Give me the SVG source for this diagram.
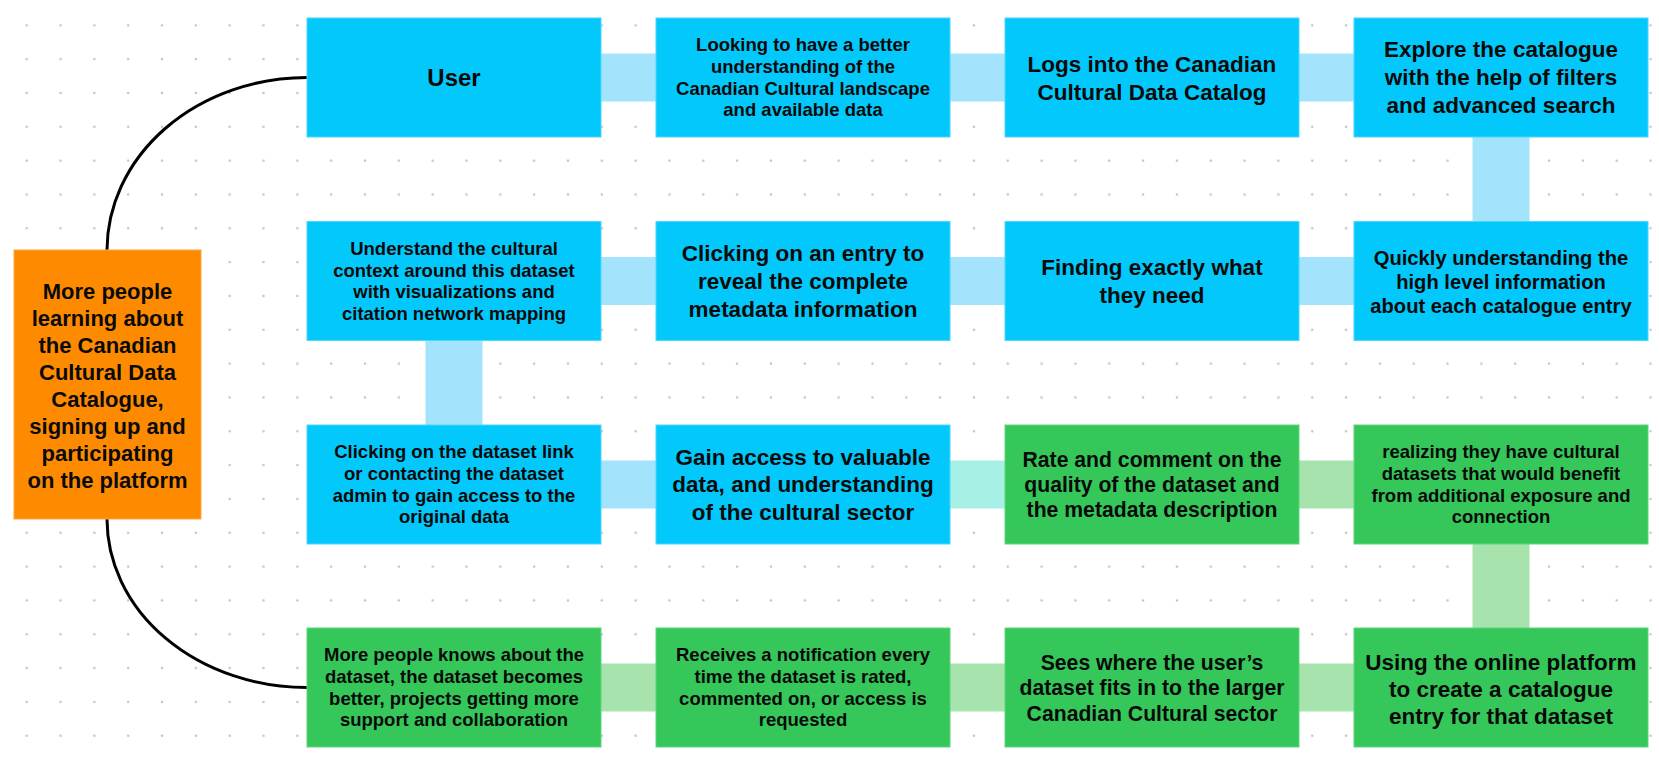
<svg xmlns="http://www.w3.org/2000/svg" width="1659" height="760" viewBox="0 0 1659 760">
<defs>
<pattern id="dots" patternUnits="userSpaceOnUse" x="9.8" y="8.4" width="33.83" height="33.83">
<circle cx="16.9" cy="16.9" r="1.3" fill="#c4c4c4"/>
</pattern>
</defs>
<style>
.b{fill:#03c8fb;stroke:#4dd8fc;stroke-width:1}
.g{fill:#35c759;stroke:#5fd57c;stroke-width:1}
.o{fill:#fe8a00;stroke:#ffa640;stroke-width:1}
.lb{fill:#a3e4fc}
.lg{fill:#a6e3ad}
.lm{fill:#a7f0e5}
text{font-family:"Liberation Sans",Arial,sans-serif;font-weight:bold;fill:#0a0a0a;text-anchor:middle}
.s{font-size:18.5px}
.m{font-size:21.2px}
.l{font-size:22.5px}
.lk{fill:none;stroke:#000;stroke-width:3}
</style>
<rect width="1659" height="760" fill="#fff"/>
<rect width="1659" height="760" fill="url(#dots)"/>
<g id="connectors">
<rect class="lb" x="598" y="53.5" width="61" height="48"/>
<rect class="lb" x="947" y="53.5" width="61" height="48"/>
<rect class="lb" x="1296" y="53.5" width="61" height="48"/>
<rect class="lb" x="1472.5" y="134" width="57" height="91"/>
<rect class="lb" x="598" y="257" width="61" height="48"/>
<rect class="lb" x="947" y="257" width="61" height="48"/>
<rect class="lb" x="1296" y="257" width="61" height="48"/>
<rect class="lb" x="425.5" y="337" width="57" height="91"/>
<rect class="lb" x="598" y="460.5" width="61" height="48"/>
<rect class="lm" x="947" y="460.5" width="61" height="48"/>
<rect class="lg" x="1296" y="460.5" width="61" height="48"/>
<rect class="lg" x="1472.5" y="540" width="57" height="91"/>
<rect class="lg" x="598" y="663.5" width="61" height="48"/>
<rect class="lg" x="947" y="663.5" width="61" height="48"/>
<rect class="lg" x="1296" y="663.5" width="61" height="48"/>
<path class="lk" d="M307,77.5 A200,173 0 0 0 107,250"/>
<path class="lk" d="M107,519 A200,168.5 0 0 0 307,687.5"/>
</g>
<g id="goal">
<rect class="o" x="14" y="250" width="187" height="269"/>
<text class="l" style="font-size:22px"><tspan x="107.5" y="299.2">More people</tspan><tspan x="107.5" y="326.1">learning about</tspan><tspan x="107.5" y="353">the Canadian</tspan><tspan x="107.5" y="379.9">Cultural Data</tspan><tspan x="107.5" y="406.8">Catalogue,</tspan><tspan x="107.5" y="433.7">signing up and</tspan><tspan x="107.5" y="460.6">participating</tspan><tspan x="107.5" y="487.5">on the platform</tspan></text>
</g>
<g id="n1">
<rect class="b" x="307" y="18" width="294" height="119"/>
<text style="font-size:24px" x="454" y="86">User</text>
</g>
<g id="n2">
<rect class="b" x="656" y="18" width="294" height="119"/>
<text class="s"><tspan x="803" y="51.3">Looking to have a better</tspan><tspan x="803" y="73">understanding of the</tspan><tspan x="803" y="94.7">Canadian Cultural landscape</tspan><tspan x="803" y="116.4">and available data</tspan></text>
</g>
<g id="n3">
<rect class="b" x="1005" y="18" width="294" height="119"/>
<text class="l"><tspan x="1152" y="71.7">Logs into the Canadian</tspan><tspan x="1152" y="99.7">Cultural Data Catalog</tspan></text>
</g>
<g id="n4">
<rect class="b" x="1354" y="18" width="294" height="119"/>
<text class="l"><tspan x="1501" y="57.4">Explore the catalogue</tspan><tspan x="1501" y="85.4">with the help of filters</tspan><tspan x="1501" y="113.4">and advanced search</tspan></text>
</g>
<g id="n5">
<rect class="b" x="1354" y="221.5" width="294" height="119"/>
<text class="m" style="font-size:20.2px"><tspan x="1501" y="264.8">Quickly understanding the</tspan><tspan x="1501" y="289">high level information</tspan><tspan x="1501" y="313.2">about each catalogue entry</tspan></text>
</g>
<g id="n6">
<rect class="b" x="1005" y="221.5" width="294" height="119"/>
<text class="l"><tspan x="1152" y="274.7">Finding exactly what</tspan><tspan x="1152" y="302.7">they need</tspan></text>
</g>
<g id="n7">
<rect class="b" x="656" y="221.5" width="294" height="119"/>
<text class="l"><tspan x="803" y="260.7">Clicking on an entry to</tspan><tspan x="803" y="288.7">reveal the complete</tspan><tspan x="803" y="316.7">metadata information</tspan></text>
</g>
<g id="n8">
<rect class="b" x="307" y="221.5" width="294" height="119"/>
<text class="s"><tspan x="454" y="254.8">Understand the cultural</tspan><tspan x="454" y="276.5">context around this dataset</tspan><tspan x="454" y="298.2">with visualizations and</tspan><tspan x="454" y="319.9">citation network mapping</tspan></text>
</g>
<g id="n9">
<rect class="b" x="307" y="425" width="294" height="119"/>
<text class="s"><tspan x="454" y="458.3">Clicking on the dataset link</tspan><tspan x="454" y="480">or contacting the dataset</tspan><tspan x="454" y="501.7">admin to gain access to the</tspan><tspan x="454" y="523.4">original data</tspan></text>
</g>
<g id="n10">
<rect class="b" x="656" y="425" width="294" height="119"/>
<text class="l"><tspan x="803" y="464.7">Gain access to valuable</tspan><tspan x="803" y="492.2">data, and understanding</tspan><tspan x="803" y="519.7">of the cultural sector</tspan></text>
</g>
<g id="n11">
<rect class="g" x="1005" y="425" width="294" height="119"/>
<text class="m"><tspan x="1152" y="467">Rate and comment on the</tspan><tspan x="1152" y="492">quality of the dataset and</tspan><tspan x="1152" y="517">the metadata description</tspan></text>
</g>
<g id="n12">
<rect class="g" x="1354" y="425" width="294" height="119"/>
<text class="s"><tspan x="1501" y="458.3">realizing they have cultural</tspan><tspan x="1501" y="480">datasets that would benefit</tspan><tspan x="1501" y="501.7">from additional exposure and</tspan><tspan x="1501" y="523.4">connection</tspan></text>
</g>
<g id="n13">
<rect class="g" x="1354" y="628" width="294" height="119"/>
<text class="l"><tspan x="1501" y="669.5">Using the online platform</tspan><tspan x="1501" y="696.5">to create a catalogue</tspan><tspan x="1501" y="723.5">entry for that dataset</tspan></text>
</g>
<g id="n14">
<rect class="g" x="1005" y="628" width="294" height="119"/>
<text class="m"><tspan x="1152" y="669.5">Sees where the user’s</tspan><tspan x="1152" y="695">dataset fits in to the larger</tspan><tspan x="1152" y="720.5">Canadian Cultural sector</tspan></text>
</g>
<g id="n15">
<rect class="g" x="656" y="628" width="294" height="119"/>
<text class="s"><tspan x="803" y="661.3">Receives a notification every</tspan><tspan x="803" y="683">time the dataset is rated,</tspan><tspan x="803" y="704.7">commented on, or access is</tspan><tspan x="803" y="726.4">requested</tspan></text>
</g>
<g id="n16">
<rect class="g" x="307" y="628" width="294" height="119"/>
<text class="s"><tspan x="454" y="661.3">More people knows about the</tspan><tspan x="454" y="683">dataset, the dataset becomes</tspan><tspan x="454" y="704.7">better, projects getting more</tspan><tspan x="454" y="726.4">support and collaboration</tspan></text>
</g>
</svg>
